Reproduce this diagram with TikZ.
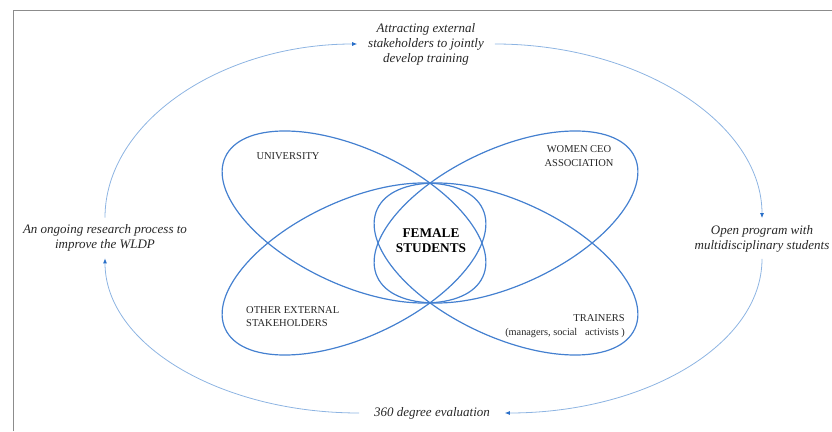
\documentclass[tikz,border=0pt]{standalone}
\usepackage{fontspec}
\setmainfont{Liberation Serif}
\usetikzlibrary{arrows.meta,shapes.geometric}
\definecolor{ellblue}{RGB}{68,128,208}
\definecolor{arcblue}{RGB}{141,180,226}
\definecolor{tipblue}{RGB}{40,110,200}
\definecolor{framegray}{RGB}{140,140,140}
\begin{document}
\begin{tikzpicture}[x=1pt,y=1pt,
  lobe/.style={draw=ellblue, line width=1.2pt, ellipse, minimum width=284pt, minimum height=136pt, inner sep=0pt},
  caplabel/.style={font=\fontsize{10.5}{13.5}\selectfont, inner sep=0pt, text=black!85},
  cyclelabel/.style={font=\fontsize{13}{15}\selectfont\itshape, align=center, inner sep=0pt, outer xsep=15pt, outer ysep=7pt, text=black!85},
  cyc/.style={draw=arcblue, line width=0.8pt, -{Latex[length=5pt,width=4pt,color=tipblue]}}
]
\useasboundingbox (0,0) rectangle (832,431);
\draw[framegray, line width=0.8pt] (13,0) -- (13,421) -- (832,421);

% four lobes
\node[lobe, rotate=-25] (uni) at (354,214) {};
\node[lobe, rotate=25]  (ceo) at (506,214) {};
\node[lobe, rotate=25]  (oth) at (354,162) {};
\node[lobe, rotate=-25] (trn) at (506,162) {};

% lobe labels
\node[caplabel] (unilab) at (288,275) {UNIVERSITY};
\node[caplabel, align=center] (ceolab) at (579,275) {WOMEN CEO\\ASSOCIATION};
\node[caplabel, align=left, anchor=west] (othlab) at (246,114.5) {OTHER EXTERNAL\\STAKEHOLDERS};
\node[caplabel, align=right, anchor=east] (trnlab) at (625,105) {TRAINERS\\{\fontsize{10.3}{12}\selectfont (managers, social\ \ \ activists\ )}};
\node[font=\fontsize{13.3}{15}\selectfont\bfseries, align=center, inner sep=0pt] (fem) at (431,190.5) {FEMALE\\STUDENTS};

% cycle labels
\node[cyclelabel, outer xsep=11pt] (tnode) at (426,387) {Attracting external\\stakeholders to jointly\\develop training};
\node[cyclelabel] (rnode) at (762,192.5) {Open program with\\multidisciplinary students};
\node[cyclelabel] (bnode) at (432,18) {360 degree evaluation};
\node[cyclelabel] (lnode) at (105,193) {An ongoing research process to\\improve the WLDP};

% cycle arrows
\draw[cyc] (lnode.north) .. controls +(0,95) and +(-137,0) .. (tnode.west);
\draw[cyc] (tnode.east) .. controls +(145,0) and +(0,95) .. (rnode.north);
\draw[cyc] (rnode.south) .. controls +(0,-86) and +(140,0) .. (bnode.east);
\draw[cyc] (bnode.west) .. controls +(-139,0) and +(0,-86) .. (lnode.south);
\end{tikzpicture}
\end{document}
